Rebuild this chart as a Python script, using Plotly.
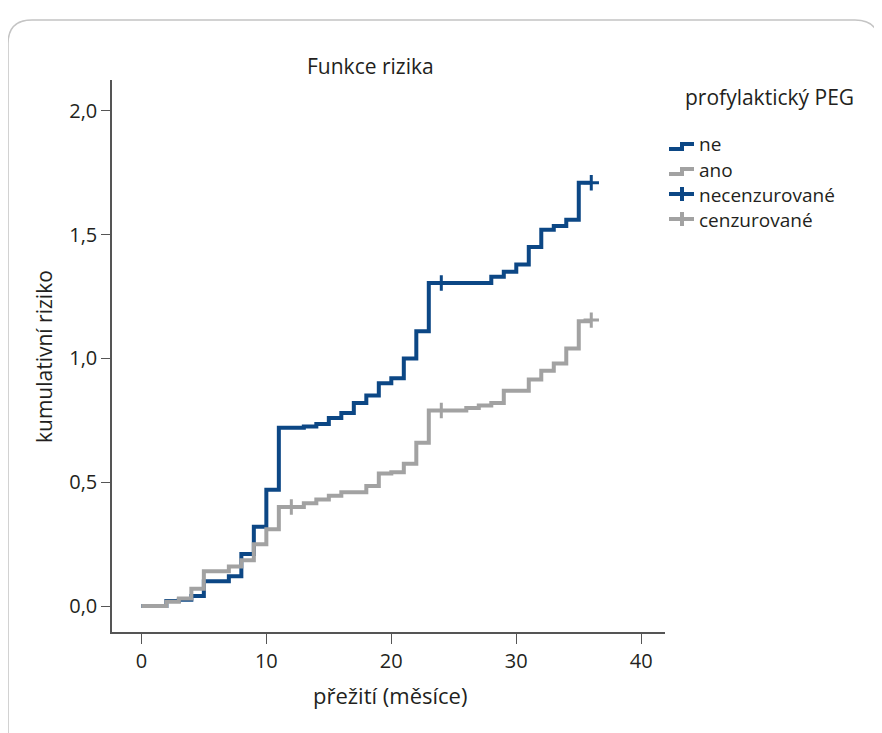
import plotly.graph_objects as go

# "ne" (no prophylactic PEG) cumulative hazard steps
ne_t = [0, 2, 3, 4, 5, 7, 8, 9, 10, 11, 13, 14, 15, 16, 17, 18, 19, 20, 21, 22, 23, 28, 29, 30, 31, 32, 33, 34, 35, 36]
ne_h = [0, 0.02, 0.025, 0.04, 0.10, 0.12, 0.21, 0.32, 0.47, 0.72, 0.725, 0.735, 0.76, 0.78, 0.82, 0.85, 0.90, 0.92, 1.00, 1.11, 1.305, 1.33, 1.35, 1.38, 1.45, 1.52, 1.535, 1.56, 1.71, 1.71]
ne_cens_t = [24, 36]
ne_cens_h = [1.305, 1.71]

# "ano" (prophylactic PEG)
ano_t = [0, 2, 3, 4, 5, 7, 8, 9, 10, 11, 13, 14, 15, 16, 18, 19, 20, 21, 22, 23, 26, 27, 28, 29, 31, 32, 33, 34, 35, 36]
ano_h = [0, 0.017, 0.03, 0.07, 0.14, 0.16, 0.185, 0.25, 0.31, 0.40, 0.415, 0.43, 0.445, 0.46, 0.485, 0.535, 0.54, 0.575, 0.66, 0.79, 0.80, 0.81, 0.82, 0.87, 0.915, 0.95, 0.98, 1.04, 1.15, 1.15]
ano_cens_t = [12, 24, 36]
ano_cens_h = [0.40, 0.79, 1.155]

x_ticks = [0, 10, 20, 30, 40]
y_ticks = [0.0, 0.5, 1.0, 1.5, 2.0]
legend_labels = ["ne", "ano", "necenzurované", "cenzurované"]

BLUE = "#0c4785"
GRAY = "#a2a2a2"
TXT = "#231f20"
FONT = "Open Sans"

W, H = 882, 733
OFF = 8  # page body margin: screen pixel = figure pixel + OFF
# plot area in screen pixels
SL, SR, ST, SB = 112, 665, 80, 632
L, R, T, B = SL - OFF, SR - OFF, ST - OFF, SB - OFF


def px(x):
    return (x - SL) / (SR - SL)


def py(y):
    return (SB - y) / (SB - ST)


fig = go.Figure()
fig.add_trace(go.Scatter(x=ne_t, y=ne_h, mode="lines", line=dict(color=BLUE, width=4, shape="hv"), showlegend=False))
fig.add_trace(go.Scatter(x=ano_t, y=ano_h, mode="lines", line=dict(color=GRAY, width=4, shape="hv"), showlegend=False))
fig.add_trace(go.Scatter(x=ne_cens_t, y=ne_cens_h, mode="markers",
                         marker=dict(symbol="cross-thin", size=11, line=dict(color=BLUE, width=3)), showlegend=False))
fig.add_trace(go.Scatter(x=ano_cens_t, y=ano_cens_h, mode="markers",
                         marker=dict(symbol="cross-thin", size=11, line=dict(color=GRAY, width=3)), showlegend=False))

shapes = []
# rounded frame
fl, ft, fr, fb, rad = 8, 20, 879, 760, 24
path = (f"M {px(fl)},{py(fb)} L {px(fl)},{py(ft+rad)} Q {px(fl)},{py(ft)} {px(fl+rad)},{py(ft)} "
        f"L {px(fr-rad)},{py(ft)} Q {px(fr)},{py(ft)} {px(fr)},{py(ft+rad)} L {px(fr)},{py(fb)}")
shapes.append(dict(type="path", xref="paper", yref="paper", path=path, line=dict(color="#c4c4c4", width=1.5)))


def step_glyph(ylo, yhi, color):
    p = f"M {px(669)},{py(ylo)} L {px(682)},{py(ylo)} L {px(682)},{py(yhi)} L {px(694)},{py(yhi)}"
    return dict(type="path", xref="paper", yref="paper", path=p, line=dict(color=color, width=4))


def cross_glyph(yc, color):
    return [dict(type="line", xref="paper", yref="paper", x0=px(669), x1=px(694), y0=py(yc), y1=py(yc),
                 line=dict(color=color, width=4)),
            dict(type="line", xref="paper", yref="paper", x0=px(682), x1=px(682), y0=py(yc - 7), y1=py(yc + 7),
                 line=dict(color=color, width=4))]


text_rows = [144, 169, 194, 219]
shapes.append(step_glyph(text_rows[0] + 5, text_rows[0], BLUE))
shapes.append(step_glyph(text_rows[1] + 5, text_rows[1], GRAY))
shapes += cross_glyph(text_rows[2], BLUE)
shapes += cross_glyph(text_rows[3], GRAY)

annotations = [
    dict(text="Funkce rizika", x=px(370), y=py(66), xref="paper", yref="paper", showarrow=False,
         font=dict(size=21, color=TXT, family=FONT), xanchor="center", yanchor="middle"),
    dict(text="profylaktický PEG", x=px(683), y=py(97), xref="paper", yref="paper", showarrow=False,
         font=dict(size=21, color=TXT, family=FONT), xanchor="left", yanchor="middle"),
    dict(text="přežití (měsíce)", x=px(390), y=py(695), xref="paper", yref="paper", showarrow=False,
         font=dict(size=22, color=TXT, family=FONT), xanchor="center", yanchor="middle"),
    dict(text="kumulativní riziko", x=px(44), y=py(357), xref="paper", yref="paper", showarrow=False,
         textangle=-90, font=dict(size=21, color=TXT, family=FONT), xanchor="center", yanchor="middle"),
]
for txt, yc in zip(legend_labels, text_rows):
    annotations.append(dict(text=txt, x=px(697), y=py(yc), xref="paper", yref="paper", showarrow=False,
                            height=21, valign="middle",
                            font=dict(size=19, color=TXT, family=FONT), xanchor="left", yanchor="middle"))

fig.update_layout(
    width=W, height=H,
    margin=dict(l=L, r=W - R, t=T, b=H - B),
    paper_bgcolor="white", plot_bgcolor="white",
    separators=", ",
    font=dict(family=FONT, size=20, color=TXT),
    shapes=shapes, annotations=annotations,
    xaxis=dict(range=[-2.35, 41.9], tickvals=x_ticks, ticks="outside", ticklen=10, tickcolor="#555",
               showline=True, linecolor="#555", linewidth=1.5, showgrid=False, zeroline=False,
               tickfont=dict(size=20)),
    yaxis=dict(range=[-0.105, 2.125], tickvals=y_ticks, tickformat=".1f", ticks="outside", ticklen=9,
               tickcolor="#555", showline=True, linecolor="#555", linewidth=1.5, showgrid=False, zeroline=False,
               tickfont=dict(size=20)),
)

fig.write_html("out.html")
